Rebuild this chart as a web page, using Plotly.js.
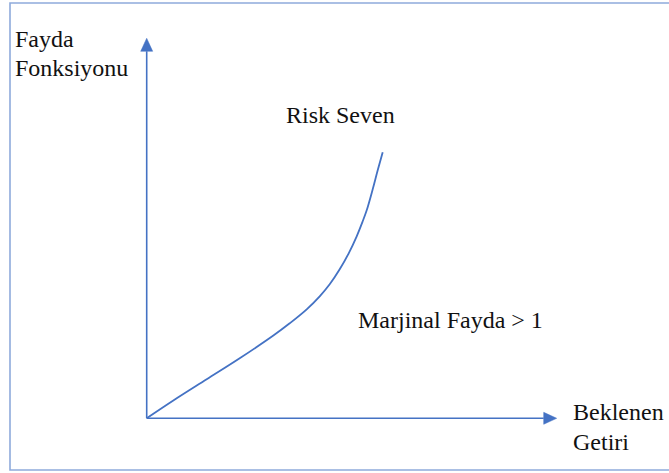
<!DOCTYPE html>
<html>
<head>
<meta charset="utf-8">
<script src="https://cdn.plot.ly/plotly-3.0.1.min.js"></script>
<style>html,body{margin:0;padding:0;background:#fff;}#chart{width:669px;height:473px;}</style>
</head>
<body>
<div id="chart"></div>
<script>
// Utility curve of a risk-seeking investor
var expectedReturn = [0, 27, 60, 93, 127, 143, 160, 173, 183, 193, 202, 210, 216, 220, 226, 231, 236];
var utility        = [0, 18, 39, 60, 83, 95, 109, 122, 134, 149, 165, 182, 197, 208, 229, 248, 266];

// Labels
var yAxisLabel = ["Fayda", "Fonksiyonu"];
var xAxisLabel = ["Beklenen", "Getiri"];
var curveLabel = "Risk Seven";
var noteLabel  = "Marjinal Fayda > 1";

var W = 669, H = 473;
var OX = 146.7, OY = 418.3;           // pixel position of the origin
var AXIS_X_END = 397, AXIS_Y_END = 367; // arrow shaft ends (data units)
var HEAD = 13, HALF = 6;

var axisColor = "#4472C4";

function ann(text, left, center) {
  return {text: text, xref: "paper", yref: "paper", x: (left - 1) / W, y: 1 - center / H,
          xanchor: "left", yanchor: "middle", showarrow: false,
          font: {family: "Liberation Serif", size: 24, color: "#111"}};
}

var shapes = [
  // outer frame
  {type: "rect", xref: "paper", yref: "paper", x0: 10 / W, x1: 1.02, y0: 1 - 470 / H, y1: 1 - 3 / H,
   line: {color: "#8EAADB", width: 1.6}, fillcolor: "rgba(0,0,0,0)", layer: "below"},
  // vertical axis
  {type: "line", xref: "x", yref: "y", x0: 0, y0: 0, x1: 0, y1: AXIS_Y_END, line: {color: axisColor, width: 1.6}},
  {type: "path", xref: "x", yref: "y",
   path: "M " + (-HALF) + " " + AXIS_Y_END + " L " + HALF + " " + AXIS_Y_END + " L 0 " + (AXIS_Y_END + HEAD) + " Z",
   fillcolor: axisColor, line: {color: axisColor, width: 0.5}},
  // horizontal axis
  {type: "line", xref: "x", yref: "y", x0: 0, y0: 0, x1: AXIS_X_END, y1: 0, line: {color: axisColor, width: 1.6}},
  {type: "path", xref: "x", yref: "y",
   path: "M " + AXIS_X_END + " " + HALF + " L " + AXIS_X_END + " " + (-HALF) + " L " + (AXIS_X_END + HEAD) + " 0 Z",
   fillcolor: axisColor, line: {color: axisColor, width: 0.5}}
];

var trace = {
  x: expectedReturn, y: utility, type: "scatter", mode: "lines",
  line: {color: axisColor, width: 1.8, shape: "spline", smoothing: 1},
  hoverinfo: "skip"
};

var layout = {
  width: W, height: H,
  margin: {l: 0, r: 0, t: 0, b: 0, pad: 0},
  paper_bgcolor: "#fff", plot_bgcolor: "#fff",
  showlegend: false,
  xaxis: {range: [-OX, W - OX], visible: false, fixedrange: true},
  yaxis: {range: [-(H - OY), OY], visible: false, fixedrange: true},
  shapes: shapes,
  annotations: [
    ann(yAxisLabel[0], 14, 38.7),
    ann(yAxisLabel[1], 13.5, 68),
    ann(curveLabel, 285, 115.3),
    ann(noteLabel, 356.7, 320.3),
    ann(xAxisLabel[0], 571.7, 412),
    ann(xAxisLabel[1], 571.7, 442)
  ]
};

Plotly.newPlot("chart", [trace], layout, {staticPlot: true, displayModeBar: false});
</script>
</body>
</html>
